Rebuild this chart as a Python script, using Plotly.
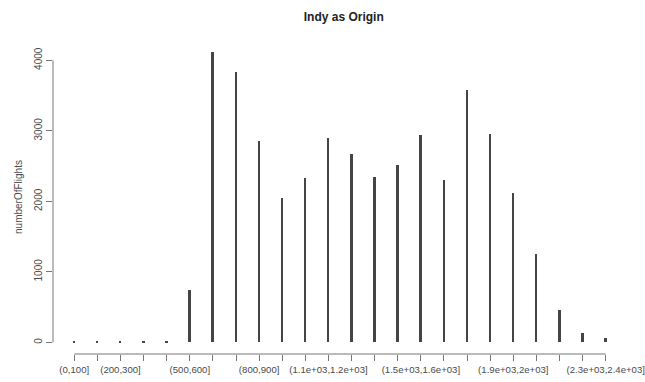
import plotly.graph_objects as go

categories = ["(0,100]", "(100,200]", "(200,300]", "(300,400]", "(400,500]", "(500,600]",
              "(600,700]", "(700,800]", "(800,900]", "(900,1e+03]", "(1e+03,1.1e+03]",
              "(1.1e+03,1.2e+03]", "(1.2e+03,1.3e+03]", "(1.3e+03,1.4e+03]", "(1.4e+03,1.5e+03]",
              "(1.5e+03,1.6e+03]", "(1.6e+03,1.7e+03]", "(1.7e+03,1.8e+03]", "(1.8e+03,1.9e+03]",
              "(1.9e+03,2e+03]", "(2e+03,2.1e+03]", "(2.1e+03,2.2e+03]", "(2.2e+03,2.3e+03]",
              "(2.3e+03,2.4e+03]"]
numberOfFlights = [22, 18, 18, 8, 8, 738, 4123, 3830, 2856, 2043, 2326, 2900, 2670, 2352,
                   2518, 2936, 2298, 3574, 2948, 2123, 1250, 464, 138, 62]
shown_labels = ["(0,100]", "(200,300]", "(500,600]", "(800,900]", "(1.1e+03,1.2e+03]",
                "(1.5e+03,1.6e+03]", "(1.9e+03,2e+03]", "(2.3e+03,2.4e+03]"]
y_ticks = [0, 1000, 2000, 3000, 4000]

ticktext = [c if c in shown_labels else "" for c in categories]

fig = go.Figure()
fig.add_trace(go.Bar(x=categories, y=numberOfFlights, width=0.085,
                     marker=dict(color="#454545", line=dict(width=0))))

ymax = max(numberOfFlights)
pad = 0.04 * ymax
n = len(categories)

fig.update_layout(
    width=645, height=382,
    margin=dict(l=53, r=18, t=40, b=28, autoexpand=False),
    paper_bgcolor="white", plot_bgcolor="white",
    showlegend=False,
    font=dict(family="Liberation Sans, Arial, sans-serif", size=11, color="#4a4a4a"),
    title=dict(text="<b>Indy as Origin</b>", x=0.533, xanchor="center", y=0.955, yanchor="middle",
               font=dict(size=12, color="#222")),
    xaxis=dict(type="category", range=[-0.92, n - 1 + 0.92], showgrid=False, zeroline=False,
               showline=False, tickmode="array", tickvals=categories, ticktext=ticktext,
               ticks="outside", ticklen=6, tickcolor="#777", tickangle=0, automargin=False,
               tickfont=dict(size=9.6, color="#4a4a4a")),
    yaxis=dict(range=[-pad, ymax + pad], showgrid=False, zeroline=False, showline=False,
               tickmode="array", tickvals=y_ticks, ticks="outside", ticklen=6, tickcolor="#777",
               tickangle=-90, tickfont=dict(size=10, color="#4a4a4a"), automargin=False,
               title=dict(text="numberOfFlights", standoff=8, font=dict(size=10, color="#4a4a4a"))),
    shapes=[
        dict(type="line", xref="paper", yref="y", x0=0, x1=0, y0=y_ticks[0], y1=y_ticks[-1],
             line=dict(color="#777", width=1)),
        dict(type="line", xref="x", yref="paper", x0=0, x1=n - 1, y0=0, y1=0,
             line=dict(color="#777", width=1)),
    ],
    bargap=0,
)

fig.write_html("out.html", config={"displayModeBar": False},
               post_script="document.body.style.margin='0';")
